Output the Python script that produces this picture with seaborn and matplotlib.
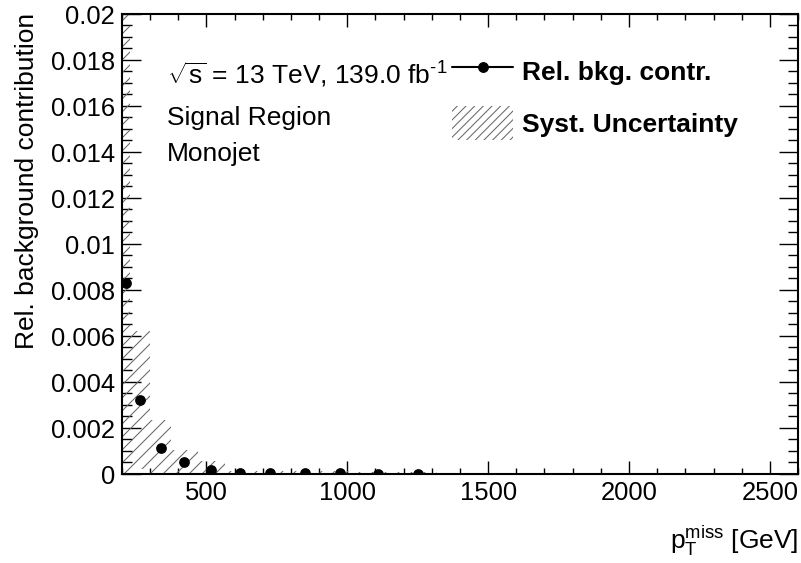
import numpy as np
import pandas as pd
import seaborn as sns
import matplotlib.pyplot as plt
import matplotlib.patches as mpatches
from matplotlib.lines import Line2D
from matplotlib.ticker import MultipleLocator, FuncFormatter

# MET bins [GeV] and the relative background contribution per bin
bin_low = [200, 230, 300, 375, 470, 565, 675, 780, 920, 1030, 1185]
bin_high = [230, 300, 375, 470, 565, 675, 780, 920, 1030, 1185, 1320]
rel_contr = [0.0083, 0.0032, 0.00113, 0.0005, 0.00016, 0.00004, 0.00003,
             0.00003, 0.00004, 0.00002, 0.00002]
syst_unc = [0.0125, 0.003, 0.00122, 0.00055, 0.0004, 0.0001, 0.00008,
            0.00008, 0.00008, 0.00008, 0.00006]

df = pd.DataFrame({'low': bin_low, 'high': bin_high,
                   'rel': rel_contr, 'unc': syst_unc})
df['center'] = (df['low'] + df['high']) / 2
df['width'] = df['high'] - df['low']

# hatch spacing is tied to the dpi, so use a lower dpi and scale point sizes up
DPI = 78
k = 100 / DPI
hatch_col = '#686868'

sns.set_theme(style="ticks")
plt.rcParams['font.family'] = ['Liberation Sans', 'DejaVu Sans']
plt.rcParams['mathtext.fontset'] = 'custom'
plt.rcParams['mathtext.rm'] = 'Liberation Sans'
plt.rcParams['mathtext.it'] = 'Liberation Sans:italic'
plt.rcParams['mathtext.bf'] = 'Liberation Sans:bold'
plt.rcParams['hatch.linewidth'] = 0.75 * k
plt.rcParams['hatch.color'] = hatch_col
for key in ['text.color', 'axes.labelcolor', 'xtick.color', 'ytick.color']:
    plt.rcParams[key] = 'black'

fs = 19 * k
fig = plt.figure(figsize=(801.3 / DPI, 563.3 / DPI), dpi=DPI)
ax = fig.add_axes([0.152, 0.158, 0.844, 0.817])

# systematic uncertainty band
ax.bar(df['low'], 2 * df['unc'], width=df['width'], bottom=df['rel'] - df['unc'],
       align='edge', color='none', hatch='//', edgecolor=hatch_col, linewidth=0, zorder=1)

sns.scatterplot(data=df, x='center', y='rel', color='black', s=60 * k * k,
                linewidth=0, ax=ax, legend=False, zorder=3)

ax.set_xlim(200, 2600)
ax.set_ylim(0, 0.02)
ax.set_xlabel('')
ax.set_ylabel('')

ax.xaxis.set_major_locator(MultipleLocator(500))
ax.xaxis.set_minor_locator(MultipleLocator(100))
ax.yaxis.set_major_locator(MultipleLocator(0.002))
ax.yaxis.set_minor_locator(MultipleLocator(0.0005))
ax.yaxis.set_major_formatter(FuncFormatter(lambda v, p: f'{v:g}'))

for sp in ax.spines.values():
    sp.set_linewidth(1.5 * k)
    sp.set_color('black')
ax.tick_params(which='both', direction='in', top=True, right=True, width=1 * k)
ax.tick_params(axis='x', which='major', length=9 * k, labelsize=18.5 * k, pad=5 * k)
ax.tick_params(axis='x', which='minor', length=4.5 * k)
ax.tick_params(axis='y', which='major', length=14 * k, labelsize=18.5 * k, pad=5 * k)
ax.tick_params(axis='y', which='minor', length=7 * k)

# labels
fig.text(798 / 801, 1 - 549 / 563, r'$\mathregular{p_{T}^{miss}}$ [GeV]',
         ha='right', va='baseline', fontsize=fs)
fig.text(27 / 801, 1 - 13 / 563, 'Rel. background contribution',
         rotation=90, ha='center', va='top', fontsize=fs)

fig.text(167 / 801, 1 - 84 / 563, r'$\sqrt{\mathregular{s}}$ = 13 TeV, 139.0 fb$^{\text{-1}}$',
         ha='left', va='baseline', fontsize=fs)
fig.text(167 / 801, 1 - 125 / 563, 'Signal Region', ha='left', va='baseline', fontsize=fs)
fig.text(167 / 801, 1 - 161 / 563, 'Monojet', ha='left', va='baseline', fontsize=fs)

handles = [Line2D([], [], color='black', marker='o', markersize=7 * k, linewidth=1.5 * k),
           mpatches.Patch(facecolor='none', edgecolor=hatch_col, hatch='///', linewidth=0)]
labels = ['Rel. bkg. contr.', 'Syst. Uncertainty']
fig.legend(handles, labels, loc='upper left', bbox_to_anchor=(452 / 801, 1 - 54 / 563),
           frameon=False, prop={'weight': 'bold', 'size': fs},
           handlelength=2.3, handleheight=1.6, handletextpad=0.35,
           labelspacing=0.7, borderpad=0, borderaxespad=0)

fig.savefig('out.png', dpi=DPI)
